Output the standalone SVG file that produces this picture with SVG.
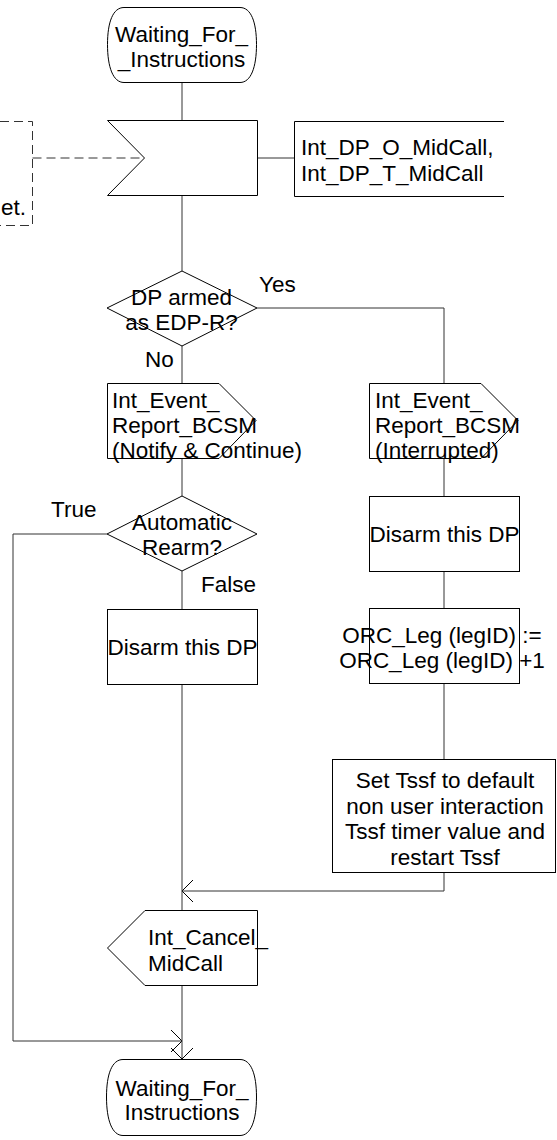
<svg xmlns="http://www.w3.org/2000/svg" width="557" height="1140" viewBox="0 0 557 1140">
<style>
.s{fill:#fff;stroke:#000;stroke-width:1}
.o{fill:none;stroke:#000;stroke-width:1}
.c{fill:none;stroke:#333;stroke-width:1}
.d{fill:none;stroke:#333;stroke-width:1;stroke-dasharray:9,5}
text{font-family:"Liberation Sans",Arial,sans-serif;font-size:22.5px;fill:#000}
.m{text-anchor:middle}
</style>
<defs>
<marker id="arr" markerUnits="userSpaceOnUse" markerWidth="14" markerHeight="24" refX="11" refY="11" orient="auto" viewBox="-1 -1 14 24">
<path d="M0,0 L11,11 L0,22" fill="none" stroke="#000" stroke-width="1"/>
</marker>
</defs>
<rect width="557" height="1140" fill="#fff"/>
<g id="connectors">
<path class="c" d="M182,82.5 V120.5"/>
<path class="c" d="M182,195.5 V271"/>
<path class="c" d="M257,158 H294"/>
<path class="d" d="M32.5,158 H144"/>
<path class="c" d="M257,308 H444 V383"/>
<path class="c" d="M182,346 V383"/>
<path class="c" d="M182,458 V496"/>
<path class="c" d="M444,458 V496"/>
<path class="c" d="M182,571 V609"/>
<path class="c" d="M107,534 H13 V1041 H182" marker-end="url(#arr)"/>
<path class="c" d="M444,571 V609"/>
<path class="c" d="M444,683 V759"/>
<path class="c" d="M444,872 V891 H182" marker-end="url(#arr)"/>
<path class="c" d="M182,684 V910"/>
<path class="c" d="M182,985 V1059" marker-end="url(#arr)"/>
</g>
<g id="start">
<path class="s" d="M124,7.5 H240 C251,7.5 256.5,22 256.5,44.5 C256.5,67 251,82.5 240,82.5 H124 C113,82.5 107.5,67 107.5,44.5 C107.5,22 113,7.5 124,7.5 Z"/>
<text class="m" x="181.5" y="42">Waiting_For_</text>
<text class="m" x="181.5" y="67">_Instructions</text>
</g>
<g id="comment">
<path class="d" d="M0,121.5 H32.5 V225.5 H0"/>
<text x="1" y="215">et.</text>
</g>
<g id="input">
<path class="s" d="M107.5,120.5 H257.5 V195.5 H107.5 L144.5,158 Z"/>
</g>
<g id="textext">
<path class="o" d="M504,121.5 H294.5 V196.5 H504"/>
<text x="301" y="155">Int_DP_O_MidCall,</text>
<text x="301" y="181">Int_DP_T_MidCall</text>
</g>
<g id="dec1">
<path class="s" d="M182,271 L257,308 L182,346 L107,308 Z"/>
<text class="m" x="181.5" y="305">DP armed</text>
<text class="m" x="181.5" y="330">as EDP-R?</text>
<text x="259" y="292">Yes</text>
<text x="145" y="367">No</text>
</g>
<g id="outNotify">
<path class="s" d="M107.5,383.5 H219 L256,420.5 L219,458.5 H107.5 Z"/>
<text x="112" y="408">Int_Event_</text>
<text x="112" y="433">Report_BCSM</text>
<text x="112" y="458">(Notify &amp; Continue)</text>
</g>
<g id="outInterrupted">
<path class="s" d="M369.5,383.5 H481 L518,420.5 L481,458.5 H369.5 Z"/>
<text x="375" y="408">Int_Event_</text>
<text x="375" y="433">Report_BCSM</text>
<text x="375" y="458">(Interrupted)</text>
</g>
<g id="dec2">
<path class="s" d="M182,496 L257,534 L182,571 L107,534 Z"/>
<text class="m" x="182" y="530">Automatic</text>
<text class="m" x="182" y="555">Rearm?</text>
<text x="51" y="517">True</text>
<text x="201" y="592">False</text>
</g>
<g id="disarmRight">
<rect class="s" x="369.5" y="496.5" width="150" height="75"/>
<text class="m" x="444.5" y="542">Disarm this DP</text>
</g>
<g id="disarmLeft">
<rect class="s" x="107.5" y="609.5" width="150" height="75"/>
<text class="m" x="182.5" y="655">Disarm this DP</text>
</g>
<g id="orc">
<rect class="s" x="369.5" y="608.5" width="150" height="75"/>
<text class="m" x="442" y="643">ORC_Leg (legID) :=</text>
<text class="m" x="442" y="668">ORC_Leg (legID) +1</text>
</g>
<g id="tssf">
<rect class="s" x="332.5" y="759.5" width="223" height="113"/>
<text class="m" x="445" y="788">Set Tssf to default</text>
<text class="m" x="445" y="814">non user interaction</text>
<text class="m" x="445" y="839">Tssf timer value and</text>
<text class="m" x="445" y="865">restart Tssf</text>
</g>
<g id="cancel">
<path class="s" d="M145,910.5 H257.5 V985.5 H145 L107.5,948 Z"/>
<text x="148" y="945">Int_Cancel_</text>
<text x="148" y="971">MidCall</text>
</g>
<g id="end">
<path class="s" d="M123,1059.5 H240 C251,1059.5 256.5,1074 256.5,1097 C256.5,1120 251,1135.5 240,1135.5 H123 C112,1135.5 106.5,1120 106.5,1097 C106.5,1074 112,1059.5 123,1059.5 Z"/>
<text class="m" x="182" y="1096">Waiting_For_</text>
<text class="m" x="182" y="1120">Instructions</text>
</g>
</svg>
